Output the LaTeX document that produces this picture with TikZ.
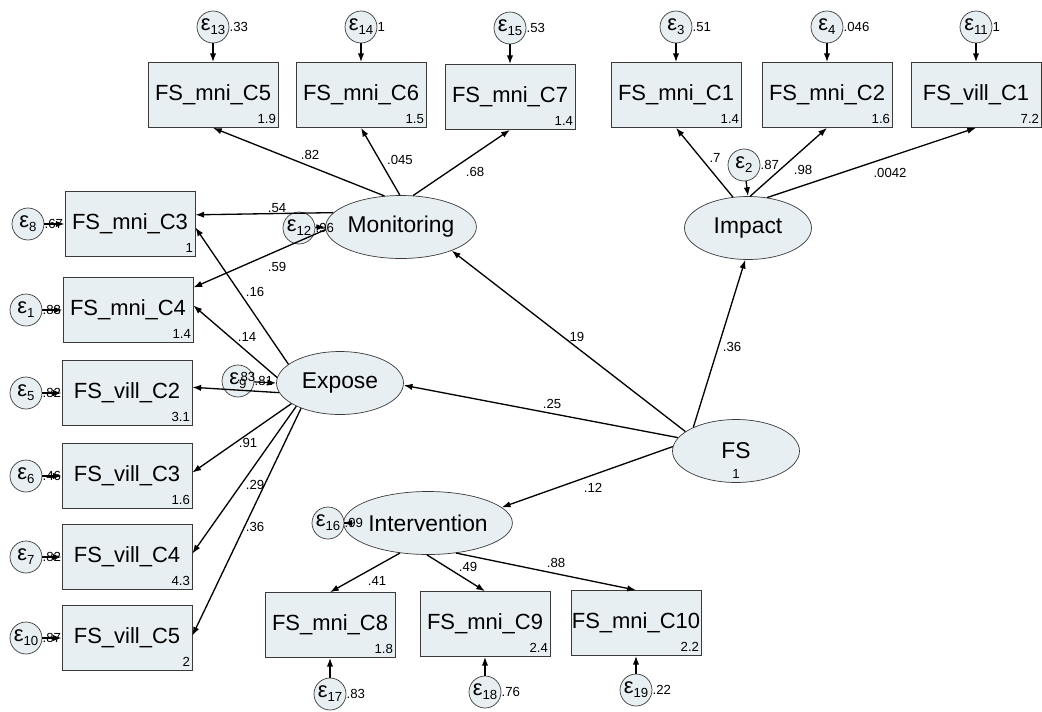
\documentclass[tikz,border=0pt]{standalone}
\usepackage{fontspec}
\setmainfont{Liberation Sans}
\usetikzlibrary{arrows.meta,shapes.geometric}
\definecolor{boxfill}{HTML}{E8EFF2}
\definecolor{boxline}{HTML}{3A3A3A}
\newcommand{\errlab}[1]{{\fontsize{12.5}{13}\selectfont ε}\raisebox{-2.2pt}{\fontsize{7.5}{8}\selectfont #1}}

\begin{document}
\begin{tikzpicture}[x=0.02cm,y=-0.02cm,
    obs/.style={draw=boxline,fill=boxfill,minimum width=2.6cm,minimum height=1.3cm,inner sep=0pt,font=\fontsize{12.5}{14}\selectfont},
    lat/.style={ellipse,draw=boxline,fill=boxfill,minimum width=2.54cm,minimum height=1.26cm,inner sep=0pt,font=\fontsize{13}{15}\selectfont},
    err/.style={circle,draw=boxline,fill=boxfill,minimum size=0.64cm,inner sep=0pt,label distance=1.5pt},
    coef/.style={font=\fontsize{7.5}{8}\selectfont,inner sep=0pt},
    mean/.style={font=\fontsize{7.5}{8}\selectfont,inner sep=0pt,anchor=south east},
    arr/.style={-{Latex[length=5pt,width=3.6pt]},line width=0.75pt}]
    \useasboundingbox (0,0) rectangle (1042,711);

    % observed variables
    \node[obs] (c5) at (213,95) {FS\_mni\_C5};
    \node[obs] (c6) at (361,95) {FS\_mni\_C6};
    \node[obs] (c7) at (510,97) {FS\_mni\_C7};
    \node[obs] (c1) at (676,95) {FS\_mni\_C1};
    \node[obs] (c2) at (827,95) {FS\_mni\_C2};
    \node[obs] (vc1) at (976,95) {FS\_vill\_C1};
    \node[obs] (c3) at (130,224) {FS\_mni\_C3};
    \node[obs] (c4) at (128,310) {FS\_mni\_C4};
    \node[obs] (vc2) at (127,393) {FS\_vill\_C2};
    \node[obs] (vc3) at (127,476) {FS\_vill\_C3};
    \node[obs] (vc4) at (127,557) {FS\_vill\_C4};
    \node[obs] (vc5) at (127,638) {FS\_vill\_C5};
    \node[obs] (c8) at (330,625) {FS\_mni\_C8};
    \node[obs] (c9) at (485,624) {FS\_mni\_C9};
    \node[obs] (c10) at (636,623) {FS\_mni\_C10};

    % means
    \node[mean] at ([shift={(-2,-4)}]c5.south east) {1.9};
    \node[mean] at ([shift={(-2,-4)}]c6.south east) {1.5};
    \node[mean] at ([shift={(-2,-4)}]c7.south east) {1.4};
    \node[mean] at ([shift={(-2,-4)}]c1.south east) {1.4};
    \node[mean] at ([shift={(-2,-4)}]c2.south east) {1.6};
    \node[mean] at ([shift={(-2,-4)}]vc1.south east) {7.2};
    \node[mean] at ([shift={(-2,-4)}]c3.south east) {1};
    \node[mean] at ([shift={(-2,-4)}]c4.south east) {1.4};
    \node[mean] at ([shift={(-2,-4)}]vc2.south east) {3.1};
    \node[mean] at ([shift={(-2,-4)}]vc3.south east) {1.6};
    \node[mean] at ([shift={(-2,-4)}]vc4.south east) {4.3};
    \node[mean] at ([shift={(-2,-4)}]vc5.south east) {2};
    \node[mean] at ([shift={(-2,-4)}]c8.south east) {1.8};
    \node[mean] at ([shift={(-2,-4)}]c9.south east) {2.4};
    \node[mean] at ([shift={(-2,-4)}]c10.south east) {2.2};

    % latent variables
    \node[lat] (mon) at (401,227) {Monitoring};
    \node[lat] (imp) at (748,228) {Impact};
    \node[lat] (exp) at (340,383) {Expose};
    \node[lat] (fs) at (736,451) {FS};
    \node[coef] (fsmean) at (736,474) {1};
    \node[lat] (int) at (428,523) {Intervention};

    % errors
    \node[err,label={[coef]0:.33}] (e13) at (213,27) {\errlab{13}};
    \node[err,label={[coef]0:1}] (e14) at (361,27) {\errlab{14}};
    \node[err,label={[coef]0:.53}] (e15) at (510,28) {\errlab{15}};
    \node[err,label={[coef]0:.51}] (e3) at (676,27) {\errlab{3}};
    \node[err,label={[coef]0:.046}] (e4) at (827,27) {\errlab{4}};
    \node[err,label={[coef]0:1}] (e11) at (976,27) {\errlab{11}};
    \node[err,label={[coef]0:.87}] (e2) at (744,165) {\errlab{2}};
    \node[err,label={[coef]0:.96}] (e12) at (299,228) {\errlab{12}};
    \node[err,label={[coef]0:.81}] (e9) at (238,381) {\errlab{9}};
    \node[err,label={[coef]0:.99}] (e16) at (328,523) {\errlab{16}};
    \node[err,label={[coef]0:.67}] (e8) at (28,224) {\errlab{8}};
    \node[err,label={[coef]0:.83}] (e1) at (26,310) {\errlab{1}};
    \node[err,label={[coef]0:.82}] (e5) at (26,393) {\errlab{5}};
    \node[err,label={[coef]0:.46}] (e6) at (26,476) {\errlab{6}};
    \node[err,label={[coef]0:.82}] (e7) at (26,557) {\errlab{7}};
    \node[err,label={[coef]0:.87}] (e10) at (26,638) {\errlab{10}};
    \node[err,label={[coef]0:.83}] (e17) at (330,694) {\errlab{17}};
    \node[err,label={[coef]0:.76}] (e18) at (485,692) {\errlab{18}};
    \node[err,label={[coef]0:.22}] (e19) at (636,690) {\errlab{19}};

    % error paths
    \draw[arr] (e13) -- (c5.north);
    \draw[arr] (e14) -- (c6.north);
    \draw[arr] (e15) -- (c7.north);
    \draw[arr] (e3) -- (c1.north);
    \draw[arr] (e4) -- (c2.north);
    \draw[arr] (e11) -- (vc1.north);
    \draw[arr] (e2) -- (imp.north);
    \draw[arr] (e12) -- (mon.west);
    \draw[arr] (e9) -- (exp.west);
    \draw[arr] (e16) -- (int.west);
    \draw[arr] (e8) -- (c3.west);
    \draw[arr] (e1) -- (c4.west);
    \draw[arr] (e5) -- (vc2.west);
    \draw[arr] (e6) -- (vc3.west);
    \draw[arr] (e7) -- (vc4.west);
    \draw[arr] (e10) -- (vc5.west);
    \draw[arr] (e17) -- (c8.south);
    \draw[arr] (e18) -- (c9.south);
    \draw[arr] (e19) -- (c10.south);

    % structural and measurement paths
    \draw[arr] (mon.118) -- (c5.south);
    \draw[arr] (mon.92) -- (c6.south);
    \draw[arr] (mon.69) -- (c7.south);
    \draw[arr] (mon.168) -- (c3.8);
    \draw[arr] (mon.182) -- (c4.19);
    \draw[arr] (imp.116) -- (c1.south);
    \draw[arr] (imp.86) -- (c2.south);
    \draw[arr] (imp.58) -- (vc1.south);
    \draw[arr] (exp.160) -- (c3.-3);
    \draw[arr] (exp.175) -- (c4.4);
    \draw[arr] (exp.189) -- (vc2.5);
    \draw[arr] (exp.203) -- (vc3.3);
    \draw[arr] (exp.208) -- (vc4.3);
    \draw[arr] (exp.213) -- (vc5.2);
    \draw[arr] (fs.159) -- (mon.-25);
    \draw[arr] (fs.151) -- (imp.265);
    \draw[arr] (fs.167) -- (exp.-2);
    \draw[arr] (fs.176) -- (int.12);
    \draw[arr] (int.227) -- (c8.north);
    \draw[arr] (int.268) -- (c9.north);
    \draw[arr] (int.313) -- (c10.north);

    % coefficients
    \node[coef] (k82) at (310,155) {.82};
    \node[coef] (k045) at (400,160) {.045};
    \node[coef] (k68) at (475,172) {.68};
    \node[coef] (k7) at (715,158) {.7};
    \node[coef] (k98) at (803,170) {.98};
    \node[coef] (k0042) at (890,173) {.0042};
    \node[coef] (k54) at (277,208) {.54};
    \node[coef] (k59) at (277,267) {.59};
    \node[coef] (k16) at (255,292) {.16};
    \node[coef] (k14) at (247,337) {.14};
    \node[coef] (k83) at (246,377) {.83};
    \node[coef] (k91) at (248,443) {.91};
    \node[coef] (k29) at (255,485) {.29};
    \node[coef] (k36e) at (255,527) {.36};
    \node[coef] (k19) at (575,337) {.19};
    \node[coef] (k36f) at (732,347) {.36};
    \node[coef] (k25) at (552,404) {.25};
    \node[coef] (k12) at (593,488) {.12};
    \node[coef] (k41) at (377,581) {.41};
    \node[coef] (k49) at (468,567) {.49};
    \node[coef] (k88) at (556,563) {.88};
\end{tikzpicture}
\end{document}
